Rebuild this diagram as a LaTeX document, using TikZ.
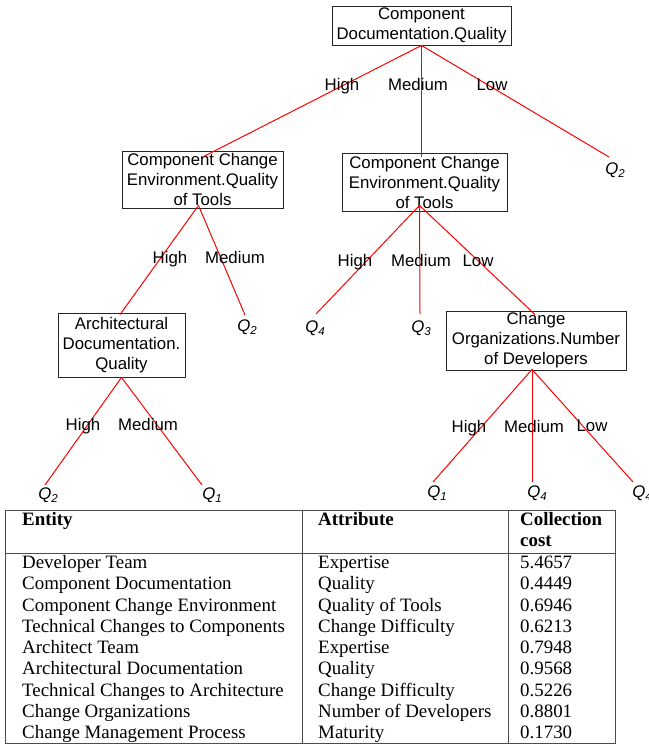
\documentclass[tikz,border=0pt]{standalone}
\usepackage{fontspec}
\setmainfont{Liberation Serif}
\newfontfamily\treefont{Liberation Sans}
\usetikzlibrary{calc}
% italic Q with a lowered index
\newcommand\leafq[1]{Q\raisebox{-3.5pt}{\fontsize{11.5}{12}\selectfont #1}}
\begin{document}
\begin{tikzpicture}[x=1pt,y=-1pt,
  attr/.style={draw=black!85, line width=0.9pt, align=center,
    font=\treefont\fontsize{16.8}{20}\selectfont, inner sep=0pt},
  branch/.style={red, line width=1pt},
  val/.style={font=\treefont\fontsize{16.8}{20}\selectfont, anchor=base, inner sep=0pt},
  leaf/.style={font=\treefont\itshape\fontsize{16.8}{20}\selectfont, inner sep=0pt},
  grid/.style={draw=black!70, line width=1pt},
  cell/.style={font=\fontsize{18.9}{21.25}\selectfont, anchor=base west, inner sep=0pt},
  head/.style={cell, font=\bfseries\fontsize{18.9}{21.25}\selectfont}
]
\useasboundingbox (0,0) rectangle (648,746);

% ---------------- decision tree: attribute nodes ----------------
\node[attr, minimum width=179pt, minimum height=39pt] (root) at (421.5,25.5)
  {Component\\Documentation.Quality};
\node[attr, minimum width=161pt, minimum height=57pt] (lc) at (202.5,179.5)
  {Component Change\\Environment.Quality\\of Tools};
\node[attr, minimum width=165pt, minimum height=58pt] (mid) at (424.5,182)
  {Component Change\\Environment.Quality\\of Tools};
\node[attr, minimum width=127pt, minimum height=64pt] (arch) at (121.5,345)
  {Architectural\\Documentation.\\Quality};
\node[attr, minimum width=180pt, minimum height=59pt] (chg) at (536,340.5)
  {Change\\Organizations.Number\\of Developers};

% ---------------- leaves ----------------
\node[leaf] (rq2) at (615,170) {\leafq{2}};
\node[leaf] (lq2) at (247,327) {\leafq{2}};
\node[leaf] (mq4) at (315,328) {\leafq{4}};
\node[leaf] (mq3) at (421,328) {\leafq{3}};
\node[leaf] (aq2) at (48,495) {\leafq{2}};
\node[leaf] (aq1) at (212,495) {\leafq{1}};
\node[leaf] (cq1) at (437,493) {\leafq{1}};
\node[leaf] (cq4) at (537,493) {\leafq{4}};
\node[leaf] (cq4r) at (642,493) {\leafq{4}};

% ---------------- branches ----------------
\draw[branch] (root.south) -- ([shift={(1,6)}]lc.north);
\draw[branch] (root.south) -- ([shift={(-3,4)}]mid.north);
\draw[branch] (root.south) -- ([shift={(-6,-13)}]rq2.center);

\draw[branch] ([shift={(-4,-3)}]lc.south) -- ([shift={(-1.5,2)}]arch.north);
\draw[branch] ([shift={(-4,-3)}]lc.south) -- ([shift={(-2,-12)}]lq2.center);

\draw[branch] ([shift={(-5,-6)}]mid.south) -- ([shift={(1,-14)}]mq4.center);
\draw[branch] ([shift={(-5,-6)}]mid.south) -- ([shift={(-1,-14)}]mq3.center);
\draw[branch] ([shift={(-5,-6)}]mid.south) -- ([shift={(-1,4)}]chg.north);

\draw[branch] (arch.south) -- ([shift={(-3,-10)}]aq2.center);
\draw[branch] (arch.south) -- ([shift={(-10,-10)}]aq1.center);

\draw[branch] ([shift={(-4,-1)}]chg.south) -- ([shift={(-4,-11)}]cq1.center);
\draw[branch] ([shift={(-4,-1)}]chg.south) -- ([shift={(-5,-11)}]cq4.center);
\draw[branch] ([shift={(-4,-1)}]chg.south) -- ([shift={(-9,-11)}]cq4r.center);

% ---------------- branch values ----------------
\node[val] (r1) at (342,91) {High};
\node[val] (r2) at (418,91) {Medium};
\node[val] (r3) at (492,91) {Low};
\node[val] (l1) at (170,263) {High};
\node[val] (l2) at (235,263) {Medium};
\node[val] (m1) at (355,266) {High};
\node[val] (m2) at (421,266) {Medium};
\node[val] (m3) at (478,266) {Low};
\node[val] (a1) at (83,430) {High};
\node[val] (a2) at (148,430) {Medium};
\node[val] (c1) at (469,432) {High};
\node[val] (c2) at (534,432) {Medium};
\node[val] (c3) at (592,431) {Low};

% ---------------- cost table ----------------
\draw[grid] (5,510) rectangle (615,743);
\draw[grid] (5,553) -- (615,553);
\draw[grid] (302,510) -- (302,743);
\draw[grid] (508,510) -- (508,743);

\node[head] (hE) at (22,525) {Entity};
\node[head] (hA) at (318,525) {Attribute};
\node[head] (hC) at (520,525) {Collection};
\node[head] (hC2) at (520,546) {cost};

\foreach \ent/\att/\cst [count=\i from 0] in {
  Developer Team/Expertise/5.4657,
  Component Documentation/Quality/0.4449,
  Component Change Environment/Quality of Tools/0.6946,
  Technical Changes to Components/Change Difficulty/0.6213,
  Architect Team/Expertise/0.7948,
  Architectural Documentation/Quality/0.9568,
  Technical Changes to Architecture/Change Difficulty/0.5226,
  Change Organizations/Number of Developers/0.8801,
  Change Management Process/Maturity/0.1730}
{
  \node[cell] (e\i) at (22,568.5+21.25*\i) {\ent};
  \node[cell] (t\i) at (318,568.5+21.25*\i) {\att};
  \node[cell] (v\i) at (520,568.5+21.25*\i) {\cst};
}
\end{tikzpicture}
\end{document}
